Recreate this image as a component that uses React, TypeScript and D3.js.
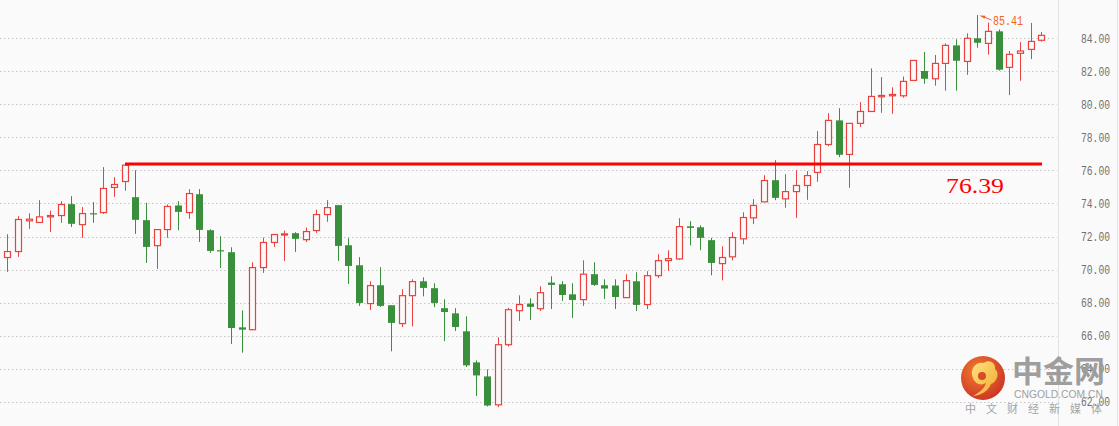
import React from "react";
import * as d3 from "d3";

const opens = [70.73,71.09,72.95,72.85,73.19,73.27,73.96,72.72,73.41,73.45,74.97,75.33,74.38,72.99,71.45,72.42,73.88,73.45,74.56,72.38,71.17,71.05,66.5,66.36,70.12,71.64,72.12,72.2,71.81,72.36,73.33,73.9,71.47,70.26,67.94,69.05,67.84,66.73,68.42,69.29,68.87,67.66,67.35,66.26,64.38,63.53,61.81,65.45,67.51,67.94,67.63,69.21,69.11,68.5,68.18,69.72,69.05,69.03,68.3,69.29,67.88,69.63,70.54,70.64,72.62,72.56,71.78,70.36,70.77,71.86,73.13,74.1,75.41,74.28,74.72,75.09,75.88,77.57,79.03,76.97,78.85,79.57,80.46,80.52,80.52,81.45,82.02,81.55,82.48,83.57,82.6,84.0,83.69,84.42,82.24,83.09,83.33,83.88];
const highs = [72.14,73.23,73.41,74.2,73.57,74.14,74.44,73.78,74.08,76.2,75.59,76.39,76.02,74.04,72.42,73.94,74.14,74.87,74.87,72.44,72.02,71.35,67.53,70.44,71.94,72.12,72.36,72.26,72.54,73.63,74.2,73.9,71.9,70.75,69.29,70.14,67.84,68.81,69.41,69.53,69.17,68.2,67.66,67.17,64.5,63.96,65.9,67.69,68.44,68.26,68.99,69.59,69.29,69.17,70.56,70.44,69.41,69.41,69.72,69.84,69.9,70.93,71.17,73.11,72.93,72.68,71.92,71.41,72.26,73.47,74.26,75.71,76.62,75.77,76.02,75.96,78.38,79.47,79.77,78.85,80.14,82.18,81.65,81.03,81.69,82.66,83.17,82.99,83.69,83.94,84.3,85.41,84.95,84.54,83.23,83.77,84.93,84.38];
const lows = [69.86,70.77,72.46,72.85,72.28,72.83,72.58,71.92,72.83,73.37,74.4,74.77,72.16,70.4,70.04,71.92,72.38,73.07,71.67,71.01,70.1,65.49,64.97,66.32,69.8,71.37,70.52,71.07,71.67,72.22,72.89,70.52,69.13,67.8,67.55,67.74,65.05,66.52,66.56,68.38,67.72,65.67,66.28,64.1,62.34,61.71,61.67,65.34,66.89,66.95,67.49,67.61,68.1,67.07,67.8,69.01,68.22,67.61,68.3,67.49,67.61,69.49,69.92,70.58,71.47,71.17,69.65,69.35,70.56,71.53,72.75,74.1,74.2,73.74,73.13,74.22,75.31,77.47,76.81,74.95,78.64,79.57,79.49,79.43,80.4,81.45,81.25,81.13,80.83,80.83,81.79,83.43,83.01,82.04,80.56,81.43,82.74,83.8];
const closes = [71.09,73.03,73.05,73.19,73.27,73.94,72.77,73.39,73.37,74.91,75.15,76.32,73.01,71.37,72.42,73.82,73.49,74.6,72.4,71.13,71.13,66.46,66.36,70.12,71.64,72.12,72.16,71.86,72.3,73.33,73.75,71.43,70.22,67.98,69.03,67.8,66.77,68.42,69.27,68.89,67.98,67.43,66.52,64.2,63.59,61.77,65.45,67.57,67.88,67.74,68.6,69.07,68.46,68.16,69.72,69.07,68.85,68.34,69.33,67.86,69.63,70.54,70.66,72.6,72.52,71.92,70.4,70.73,71.94,73.15,73.88,75.39,74.34,74.72,75.09,75.69,77.57,79.03,76.95,78.85,79.57,80.48,80.54,80.6,81.39,82.66,81.55,82.48,83.57,82.64,84.0,83.73,84.42,82.1,83.03,83.23,83.81,84.18];

const yTicks = [62, 64, 66, 68, 70, 72, 74, 76, 78, 80, 82, 84];
const levelValue = 76.39;
const levelStartIndex = 11;
const maxLabel = "85.41";
const maxIndex = 91;

const W = 1119;
const H = 426;
const RED = "#e8423f";
const GREEN = "#398f3b";
const BG = "#fafafa";

export default function App() {
  const x = d3.scaleLinear().domain([0, opens.length - 1]).range([7.3, 1041.3]);
  const y = d3.scaleLinear().domain([62, 84]).range([401.7, 38.3]);
  const plotRight = 1058.5;

  const candles = opens.map((o, i) => {
    const c = closes[i];
    const h = highs[i];
    const l = lows[i];
    const cx = Math.round(x(i)) + 0.5;
    const up = c >= o;
    const top = y(Math.max(o, c));
    const bot = y(Math.min(o, c));
    const bh = Math.max(bot - top, 1.2);
    if (up) {
      return (
        <g key={i}>
          <line x1={cx} x2={cx} y1={y(h)} y2={top} stroke={RED} strokeWidth={1} />
          <line x1={cx} x2={cx} y1={top + bh} y2={y(l)} stroke={RED} strokeWidth={1} />
          <rect x={cx - 3} y={top} width={6} height={bh} fill={BG} stroke={RED} strokeWidth={1.2} />
        </g>
      );
    }
    return (
      <g key={i}>
        <line x1={cx} x2={cx} y1={y(h)} y2={y(l)} stroke={GREEN} strokeWidth={1} />
        <rect x={cx - 3.5} y={top} width={7} height={bh} fill={GREEN} />
      </g>
    );
  });

  const maxX = Math.round(x(maxIndex)) + 0.5;
  const maxY = y(highs[maxIndex]);

  return (
    <div style={{ position: "fixed", left: 0, top: 0, width: W, height: H }}>
      <svg width={W} height={H} style={{ display: "block" }}>
        <defs>
          <radialGradient id="logoGrad" cx="40%" cy="35%" r="70%">
            <stop offset="0%" stopColor="#f27a24" />
            <stop offset="100%" stopColor="#c9281a" />
          </radialGradient>
          <linearGradient id="swirlGrad" x1="0" y1="0" x2="1" y2="1">
            <stop offset="0%" stopColor="#fde07a" />
            <stop offset="100%" stopColor="#f3a825" />
          </linearGradient>
        </defs>
        <rect x={0} y={0} width={W} height={H} fill={BG} />
        {yTicks.map((t) => (
          <line
            key={"g" + t}
            x1={0}
            x2={plotRight - 2}
            y1={Math.round(y(t)) + 0.5}
            y2={Math.round(y(t)) + 0.5}
            stroke="#c6c6c6"
            strokeWidth={1}
            strokeDasharray="1.5 2.5"
          />
        ))}
        <line x1={plotRight} x2={plotRight} y1={0} y2={H} stroke="#e2e2e2" strokeWidth={1} />
        <line x1={W - 1.5} x2={W - 1.5} y1={0} y2={H} stroke="#e2e2e2" strokeWidth={1} />
        {yTicks.map((t) => (
          <text
            key={"t" + t}
            x={1110}
            y={y(t)}
            dy="0.35em"
            textAnchor="end"
            fontFamily="'Liberation Mono', 'DejaVu Sans Mono', monospace"
            fontSize={12}
            fill="#707070"
            textLength={29}
            lengthAdjust="spacingAndGlyphs"
          >
            {d3.format(".2f")(t)}
          </text>
        ))}
        {candles}
        <line
          x1={Math.round(x(levelStartIndex))}
          x2={1042}
          y1={y(levelValue)}
          y2={y(levelValue)}
          stroke="#ff0000"
          strokeWidth={3}
        />
        <text
          x={946}
          y={193}
          fontFamily="'Liberation Serif', 'DejaVu Serif', serif"
          fontSize={21}
          fill="#ff0000"
          textLength={58}
          lengthAdjust="spacingAndGlyphs"
        >
          {levelValue.toFixed(2)}
        </text>
        <path
          d={`M${maxX + 2},${maxY + 0.5} L${maxX + 8},${maxY + 0.8} L${maxX + 7},${maxY + 3.8} Z`}
          fill="#f0641e"
        />
        <line x1={maxX + 7} y1={maxY + 2.2} x2={maxX + 14} y2={maxY + 5} stroke="#f0641e" strokeWidth={1} />
        <text
          x={993}
          y={21}
          dy="0.35em"
          fontFamily="'Liberation Mono', 'DejaVu Sans Mono', monospace"
          fontSize={12}
          fill="#f0641e"
          textLength={30}
          lengthAdjust="spacingAndGlyphs"
        >
          {maxLabel}
        </text>
        <g opacity={0.95}>
          <circle cx={983} cy={378} r={22} fill="url(#logoGrad)" />
          <path
            d="M973,378 C969,369 976,361 984,363 C988,359 996,362 995,369 C1000,373 997,382 991,384 C988,391 982,395 973,396 C980,392 985,388 986,383 C981,386 975,384 973,378 Z"
            fill="url(#swirlGrad)"
          />
          <circle cx={982} cy={376} r={4} fill="#d8431c" />
          <text
            x={1012}
            y={382}
            fontFamily="'Noto Sans CJK SC', sans-serif"
            fontWeight={700}
            fontSize={30}
            fill="#9a9a9a"
            textLength={93}
            lengthAdjust="spacingAndGlyphs"
          >
            中金网
          </text>
          <text
            x={1014}
            y={398}
            fontFamily="'Liberation Sans', Arial, sans-serif"
            fontSize={10}
            fill="#9a9a9a"
            textLength={89}
            lengthAdjust="spacingAndGlyphs"
          >
            CNGOLD.COM.CN
          </text>
          <text
            x={965}
            y={413}
            fontFamily="'Noto Sans CJK SC', sans-serif"
            fontSize={11}
            fill="#a0a0a0"
            textLength={137}
            lengthAdjust="spacing"
          >
            中文财经新媒体
          </text>
        </g>
      </svg>
    </div>
  );
}
